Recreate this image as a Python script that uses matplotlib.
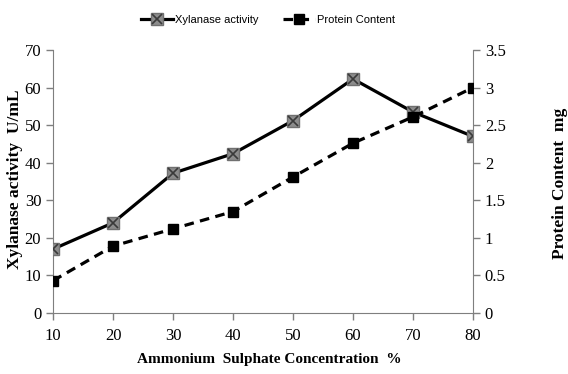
import matplotlib
matplotlib.use("Agg")
import matplotlib.pyplot as plt
from matplotlib.lines import Line2D

conc = [10, 20, 30, 40, 50, 60, 70, 80]
xylanase = [17.0, 24.0, 37.2, 42.4, 51.2, 62.3, 53.5, 47.0]
protein = [0.43, 0.89, 1.12, 1.35, 1.81, 2.26, 2.61, 3.0]
left_ticks = [0, 10, 20, 30, 40, 50, 60, 70]
right_ticks = [0, 0.5, 1, 1.5, 2, 2.5, 3, 3.5]
right_labels = ["0", "0.5", "1", "1.5", "2", "2.5", "3", "3.5"]

serif = "Liberation Serif"
W, H = 568, 374
fig = plt.figure(figsize=(W / 100, H / 100), dpi=100)
ax = fig.add_axes([53 / W, 1 - 313 / H, 420 / W, 263 / H])
ax2 = ax.twinx()

LW = 2.3
ax.plot(conc, xylanase, color="black", lw=LW, marker="s", ms=8.5,
        mfc="#8c8c8c", mec="#707070", zorder=3)
ax.plot(conc, xylanase, ls="none", marker="x", ms=7.5, mew=1.2,
        color="#3a3a3a", zorder=4)
ax2.plot(conc, protein, color="black", lw=LW, ls=(0, (3, 2)), marker="s",
         ms=7, mfc="black", mec="black", zorder=3)

ax.set_xlim(10, 80)
ax.set_ylim(0, 70)
ax2.set_ylim(0, 3.5)
ax.set_xticks(conc)
ax.set_yticks(left_ticks)
ax2.set_yticks(right_ticks)
ax2.set_yticklabels(right_labels)

for a in (ax, ax2):
    a.spines["top"].set_visible(False)
    for s in a.spines.values():
        s.set_color("#7f7f7f")
    a.tick_params(colors="#7f7f7f", labelcolor="black", length=5, width=1,
                  labelsize=12)
    for lab in a.get_xticklabels() + a.get_yticklabels():
        lab.set_fontfamily(serif)
ax2.spines["left"].set_visible(False)
ax2.spines["bottom"].set_visible(False)
ax.spines["right"].set_visible(False)
ax.tick_params(axis="x", pad=6)

fig.text(269 / W, 1 - 359 / H, "Ammonium  Sulphate Concentration  %",
         fontfamily=serif, fontweight="bold", fontsize=11,
         ha="center", va="center")
fig.text(15 / W, 1 - 179 / H, "Xylanase activity  U/mL", fontfamily=serif,
         fontweight="bold", fontsize=12.5, rotation=90, ha="center",
         va="center")
fig.text(560 / W, 1 - 183 / H, "Protein Content  mg", fontfamily=serif,
         fontweight="bold", fontsize=12.5, rotation=90, ha="center",
         va="center")

h1a = Line2D([], [], color="black", lw=LW, marker="s", ms=8.5,
             mfc="#8c8c8c", mec="#707070")
h1b = Line2D([], [], ls="none", marker="x", ms=7.5, mew=1.2, color="#3a3a3a")
h2 = Line2D([], [], color="black", lw=LW, ls=(0, (3, 2)), marker="s",
            ms=7, mfc="black", mec="black")
fig.legend([(h1a, h1b), h2], ["Xylanase activity", "Protein Content"],
           loc="center", bbox_to_anchor=(268 / W, 1 - 20 / H), ncol=2,
           frameon=False, prop={"family": "Liberation Sans", "size": 8},
           handlelength=2.9, columnspacing=2.2, handletextpad=0.2)

fig.savefig("out.png", dpi=100)
